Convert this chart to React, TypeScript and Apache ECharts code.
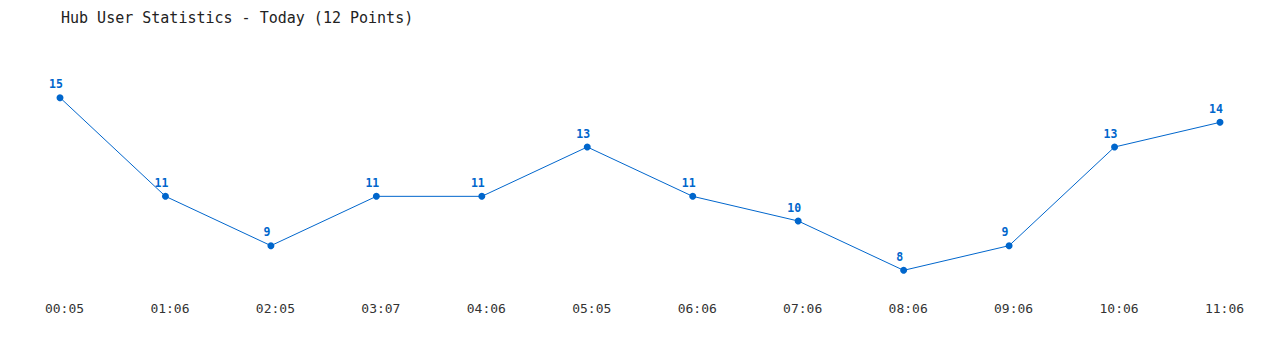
import React, { useEffect, useRef } from "react";
import * as echarts from "echarts";

const titleText = "Hub User Statistics - Today (12 Points)";
const times = ["00:05", "01:06", "02:05", "03:07", "04:06", "05:05", "06:06", "07:06", "08:06", "09:06", "10:06", "11:06"];
const users = [15, 11, 9, 11, 11, 13, 11, 10, 8, 9, 13, 14];

const FONT = "'DejaVu Sans Mono', 'Liberation Mono', monospace";

export default function App() {
  const ref = useRef<HTMLDivElement>(null);
  useEffect(() => {
    if (!ref.current) return;
    const chart = echarts.init(ref.current, null, { renderer: "svg" });
    chart.setOption({
      animation: false,
      title: {
        text: titleText,
        left: 56,
        top: 5,
        textStyle: { fontFamily: FONT, fontSize: 15, fontWeight: "normal", color: "#222" },
      },
      grid: { left: 60, right: 60, top: 73, bottom: 55 },
      xAxis: {
        type: "category",
        data: times,
        boundaryGap: false,
        axisLine: { show: false },
        axisTick: { show: false },
        splitLine: { show: false },
        axisLabel: { fontFamily: FONT, fontSize: 13, color: "#333", margin: 7, padding: [0, 0, 0, 9] },
      },
      yAxis: {
        type: "value",
        min: 7,
        max: 16,
        show: false,
        splitLine: { show: false },
      },
      series: [
        {
          type: "line",
          data: users,
          symbol: "circle",
          symbolSize: 7,
          lineStyle: { color: "#0066cc", width: 1 },
          itemStyle: { color: "#0066cc" },
          label: {
            show: true,
            position: "top",
            distance: 4,
            offset: [-4, 0],
            fontFamily: FONT,
            fontSize: 11.5,
            fontWeight: "bold",
            color: "#0066cc",
          },
        },
      ],
    });
    return () => chart.dispose();
  }, []);
  return <div ref={ref} style={{ width: 1280, height: 350, margin: -8 }} />;
}
